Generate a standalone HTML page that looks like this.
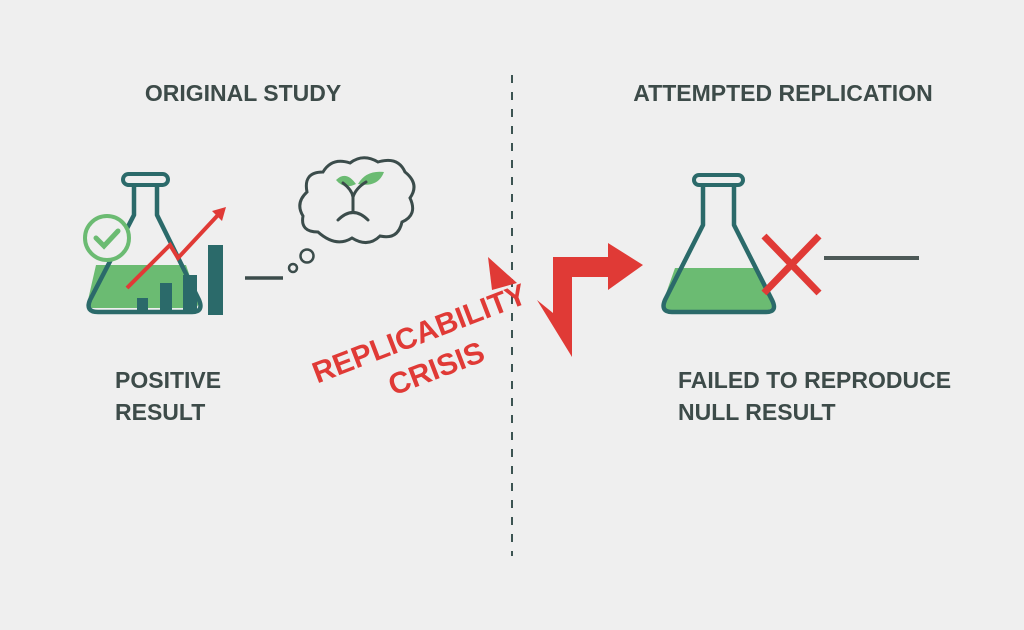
<!DOCTYPE html>
<html><head><style>
html,body{margin:0;padding:0;background:#efefef;}
svg{display:block;}
text{font-family:"Liberation Sans",sans-serif;}
</style></head><body>
<svg width="1024" height="630" viewBox="0 0 1024 630" xmlns="http://www.w3.org/2000/svg">
<rect width="1024" height="630" fill="#efefef"/>
<line x1="512" y1="75" x2="512" y2="556" stroke="#3c5452" stroke-width="2" stroke-dasharray="8,9"/>
<g fill="#3d4b49" font-size="23" font-weight="bold">
<text x="243" y="101" text-anchor="middle">ORIGINAL STUDY</text>
<text x="783" y="101" text-anchor="middle">ATTEMPTED REPLICATION</text>
<text x="115" y="388">POSITIVE</text>
<text x="115" y="420">RESULT</text>
<text x="678" y="388">FAILED TO REPRODUCE</text>
<text x="678" y="420">NULL RESULT</text>
</g>
<!-- left flask -->
<path d="M96 265 L186 265 L198 300 Q200 308 192 308 L92 308 Q85 308 88 300 Z" fill="#6bbb72"/>
<path d="M134 185 L134 215 L90 300 Q85 312 98 312 L192 312 Q204 312 199 300 L157 215 L157 185" fill="none" stroke="#2b6a6a" stroke-width="4.5" stroke-linejoin="round"/>
<rect x="123" y="174" width="45" height="11" rx="5.5" fill="none" stroke="#2b6a6a" stroke-width="4"/>
<circle cx="107" cy="238" r="22" fill="#efefef" stroke="#6bbb72" stroke-width="4"/>
<path d="M96 238 L104 246 L118 231" fill="none" stroke="#6bbb72" stroke-width="5" stroke-linecap="round"/>
<g fill="#2b6a6a">
<rect x="137" y="298" width="11" height="15"/>
<rect x="160" y="283" width="12" height="30"/>
<rect x="183" y="275" width="14" height="38"/>
<rect x="208" y="245" width="15" height="70"/>
</g>
<path d="M127 288 L170 245 L178 258 L218 215" fill="none" stroke="#e03a36" stroke-width="4"/>
<polygon points="226,207 212,211 222,221" fill="#e03a36"/>
<line x1="245" y1="278" x2="283" y2="278" stroke="#3b4c4b" stroke-width="3.5"/>
<circle cx="293" cy="268" r="4" fill="none" stroke="#3b4c4b" stroke-width="2.5"/>
<circle cx="307" cy="256" r="6.5" fill="none" stroke="#3b4c4b" stroke-width="2.5"/>
<path d="M318 232 Q300 232 303 216 Q295 203 307 192 Q303 172 323 172 Q332 157 350 163 Q363 153 378 162 Q398 156 405 172 Q420 184 410 198 Q418 215 402 222 Q398 240 380 236 Q368 248 352 238 Q336 248 318 232 Z" fill="#efefef" stroke="#3b4c4b" stroke-width="3"/>
<path d="M336 180 Q346 170 356 184 Q344 190 336 180 Z M358 184 Q366 170 384 172 Q378 188 358 184 Z" fill="#6bbb72"/>
<path d="M353 212 L353 197 Q352 190 343 183 M353 197 Q356 188 366 182" fill="none" stroke="#3b4c4b" stroke-width="3" stroke-linecap="round"/>
<path d="M338 220 Q353 205 368 220" fill="none" stroke="#3b4c4b" stroke-width="3" stroke-linecap="round"/>
<!-- red crisis -->
<polygon points="488,257 492,290 517,283" fill="#e03a36"/>
<polygon points="553,257 608,257 608,243 643,265 608,290 608,277 572,277 572,357 537,300 553,313" fill="#e03a36"/>
<g fill="#e03a36" font-size="30" font-weight="bold">
<text transform="translate(423,343) rotate(-21)" text-anchor="middle">REPLICABILITY</text>
<text transform="translate(440,378) rotate(-21)" text-anchor="middle">CRISIS</text>
</g>
<!-- right flask -->
<path d="M675 268 L755 268 L772 302 Q774 310 766 310 L668 310 Q660 310 663 302 Z" fill="#6bbb72"/>
<path d="M703 185 L703 225 L665 300 Q660 312 672 312 L766 312 Q778 312 772 300 L734 225 L734 185" fill="none" stroke="#2b6a6a" stroke-width="4.5" stroke-linejoin="round"/>
<rect x="694" y="175" width="49" height="10" rx="5" fill="none" stroke="#2b6a6a" stroke-width="4"/>
<path d="M764 236 L819 293 M819 236 L764 293" stroke="#e03a36" stroke-width="7"/>
<line x1="824" y1="258" x2="919" y2="258" stroke="#4d5957" stroke-width="4"/>
</svg>
</body></html>
